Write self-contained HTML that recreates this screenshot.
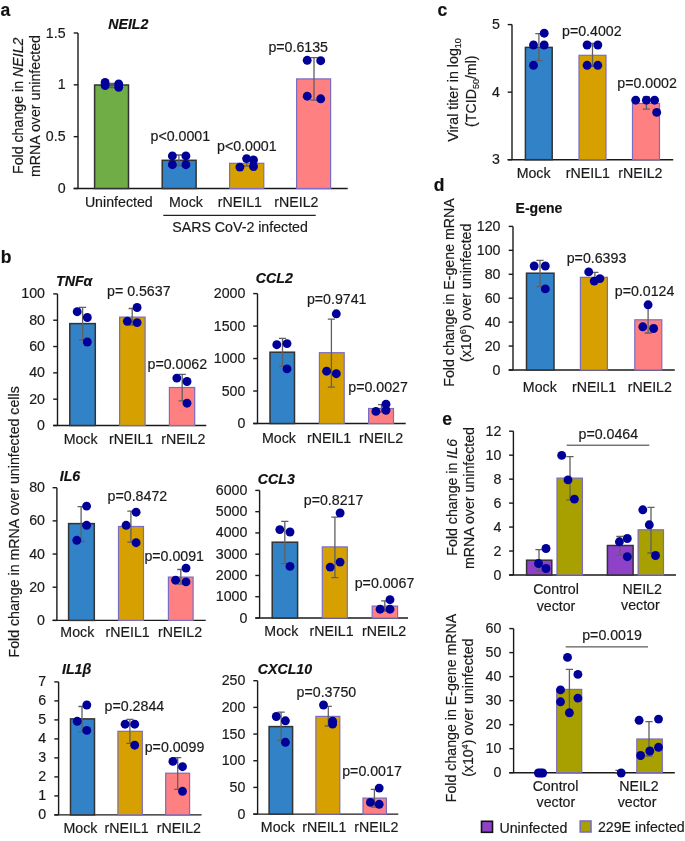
<!DOCTYPE html>
<html><head><meta charset="utf-8"><style>
html,body{margin:0;padding:0;background:#fff;}
svg{display:block;font-family:"Liberation Sans", sans-serif;will-change:transform;}
text{stroke:#1a1a1a;stroke-width:0.18px;}
</style></head><body>
<svg width="685" height="841" viewBox="0 0 685 841">
<rect width="685" height="841" fill="#fff"/>
<text x="0.6" y="16" font-size="17.5" text-anchor="start" font-weight="bold" font-style="normal" fill="#111" >a</text>
<line x1="78.0" y1="33.0" x2="78.0" y2="188.5" stroke="#1a1a1a" stroke-width="1.4"/>
<line x1="73.7" y1="188.5" x2="347.7" y2="188.5" stroke="#1a1a1a" stroke-width="1.4"/>
<line x1="73.7" y1="33.0" x2="78.0" y2="33.0" stroke="#1a1a1a" stroke-width="1.4"/>
<text x="65.6" y="37.5" font-size="14.2" text-anchor="end" font-weight="normal" font-style="normal" fill="#1a1a1a" >1.5</text>
<line x1="73.7" y1="84.83333333333334" x2="78.0" y2="84.83333333333334" stroke="#1a1a1a" stroke-width="1.4"/>
<text x="65.6" y="89.33333333333334" font-size="14.2" text-anchor="end" font-weight="normal" font-style="normal" fill="#1a1a1a" >1</text>
<line x1="73.7" y1="136.66666666666669" x2="78.0" y2="136.66666666666669" stroke="#1a1a1a" stroke-width="1.4"/>
<text x="65.6" y="141.16666666666669" font-size="14.2" text-anchor="end" font-weight="normal" font-style="normal" fill="#1a1a1a" >0.5</text>
<line x1="73.7" y1="188.5" x2="78.0" y2="188.5" stroke="#1a1a1a" stroke-width="1.4"/>
<text x="65.6" y="193.0" font-size="14.2" text-anchor="end" font-weight="normal" font-style="normal" fill="#1a1a1a" >0</text>
<rect x="94.6" y="85.0" width="33.900000000000006" height="103.5" fill="#70ad47" stroke="#333" stroke-width="1.5"/>
<rect x="162.2" y="160.3" width="33.900000000000006" height="28.19999999999999" fill="#3282c8" stroke="#333" stroke-width="1.5"/>
<rect x="229.6" y="163.3" width="34.20000000000002" height="25.19999999999999" fill="#d6a000" stroke="#7a6cc2" stroke-width="1.2"/>
<rect x="296.6" y="78.9" width="34.0" height="109.6" fill="#ff8080" stroke="#7a6cc2" stroke-width="1.2"/>
<path d="M112 83.5V87.5M108.4 83.5H115.6M108.4 87.5H115.6" stroke="#606060" stroke-width="1.3" fill="none"/>
<path d="M178.9 155V165.5M175.3 155H182.5M175.3 165.5H182.5" stroke="#606060" stroke-width="1.3" fill="none"/>
<path d="M246.7 161V166M243.1 161H250.29999999999998M243.1 166H250.29999999999998" stroke="#606060" stroke-width="1.3" fill="none"/>
<path d="M314 57.7V100.2M310.4 57.7H317.6M310.4 100.2H317.6" stroke="#606060" stroke-width="1.3" fill="none"/>
<circle cx="105.1" cy="82.5" r="4.45" fill="#000099"/>
<circle cx="105.1" cy="85.5" r="4.45" fill="#000099"/>
<circle cx="118.7" cy="83.9" r="4.45" fill="#000099"/>
<circle cx="118.7" cy="87.3" r="4.45" fill="#000099"/>
<circle cx="172.4" cy="155.9" r="4.45" fill="#000099"/>
<circle cx="185.9" cy="155.9" r="4.45" fill="#000099"/>
<circle cx="172.4" cy="164.7" r="4.45" fill="#000099"/>
<circle cx="185.9" cy="164.7" r="4.45" fill="#000099"/>
<circle cx="239.9" cy="167.1" r="4.45" fill="#000099"/>
<circle cx="246.6" cy="158.6" r="4.45" fill="#000099"/>
<circle cx="253.5" cy="160" r="4.45" fill="#000099"/>
<circle cx="253.5" cy="166.5" r="4.45" fill="#000099"/>
<circle cx="307.2" cy="60.3" r="4.45" fill="#000099"/>
<circle cx="320.7" cy="60.7" r="4.45" fill="#000099"/>
<circle cx="307.2" cy="96.2" r="4.45" fill="#000099"/>
<circle cx="320.7" cy="98.8" r="4.45" fill="#000099"/>
<text x="180.3" y="140.9" font-size="14.2" text-anchor="middle" font-weight="normal" font-style="normal" fill="#1a1a1a" >p&lt;0.0001</text>
<text x="246.8" y="150.9" font-size="14.2" text-anchor="middle" font-weight="normal" font-style="normal" fill="#1a1a1a" >p&lt;0.0001</text>
<text x="298.2" y="51.5" font-size="14.2" text-anchor="middle" font-weight="normal" font-style="normal" fill="#1a1a1a" >p=0.6135</text>
<text x="118.8" y="206.9" font-size="14.2" text-anchor="middle" font-weight="normal" font-style="normal" fill="#1a1a1a" >Uninfected</text>
<text x="186" y="206.9" font-size="14.2" text-anchor="middle" font-weight="normal" font-style="normal" fill="#1a1a1a" >Mock</text>
<text x="239.9" y="206.9" font-size="14.2" text-anchor="middle" font-weight="normal" font-style="normal" fill="#1a1a1a" >rNEIL1</text>
<text x="296.4" y="206.9" font-size="14.2" text-anchor="middle" font-weight="normal" font-style="normal" fill="#1a1a1a" >rNEIL2</text>
<text x="108.2" y="29.2" font-size="14.2" text-anchor="start" font-weight="bold" font-style="italic" fill="#111" >NEIL2</text>
<line x1="163.3" y1="215.4" x2="315.7" y2="215.4" stroke="#222" stroke-width="1.1"/>
<text x="240.1" y="231.9" font-size="14.2" text-anchor="middle" font-weight="normal" font-style="normal" fill="#1a1a1a" >SARS CoV-2 infected</text>
<text transform="translate(23.1,105.8) rotate(-90)" font-size="14.2" text-anchor="middle" fill="#1a1a1a">Fold change in <tspan font-style="italic">NEIL2</tspan></text>
<text transform="translate(40,106) rotate(-90)" font-size="14.2" text-anchor="middle" fill="#1a1a1a">mRNA over uninfected</text>
<text x="0.8" y="263.2" font-size="17.5" text-anchor="start" font-weight="bold" font-style="normal" fill="#111" >b</text>
<text transform="translate(19.2,521.9) rotate(-90)" font-size="14.2" text-anchor="middle" fill="#1a1a1a">Fold change in mRNA over uninfected cells</text>
<line x1="57.5" y1="293.9" x2="57.5" y2="425.5" stroke="#1a1a1a" stroke-width="1.4"/>
<line x1="53.2" y1="425.5" x2="206.3" y2="425.5" stroke="#1a1a1a" stroke-width="1.4"/>
<line x1="53.2" y1="293.9" x2="57.5" y2="293.9" stroke="#1a1a1a" stroke-width="1.4"/>
<text x="45" y="298.4" font-size="14.2" text-anchor="end" font-weight="normal" font-style="normal" fill="#1a1a1a" >100</text>
<line x1="53.2" y1="320.21999999999997" x2="57.5" y2="320.21999999999997" stroke="#1a1a1a" stroke-width="1.4"/>
<text x="45" y="324.71999999999997" font-size="14.2" text-anchor="end" font-weight="normal" font-style="normal" fill="#1a1a1a" >80</text>
<line x1="53.2" y1="346.53999999999996" x2="57.5" y2="346.53999999999996" stroke="#1a1a1a" stroke-width="1.4"/>
<text x="45" y="351.03999999999996" font-size="14.2" text-anchor="end" font-weight="normal" font-style="normal" fill="#1a1a1a" >60</text>
<line x1="53.2" y1="372.86" x2="57.5" y2="372.86" stroke="#1a1a1a" stroke-width="1.4"/>
<text x="45" y="377.36" font-size="14.2" text-anchor="end" font-weight="normal" font-style="normal" fill="#1a1a1a" >40</text>
<line x1="53.2" y1="399.18" x2="57.5" y2="399.18" stroke="#1a1a1a" stroke-width="1.4"/>
<text x="45" y="403.68" font-size="14.2" text-anchor="end" font-weight="normal" font-style="normal" fill="#1a1a1a" >20</text>
<line x1="53.2" y1="425.5" x2="57.5" y2="425.5" stroke="#1a1a1a" stroke-width="1.4"/>
<text x="45" y="430.0" font-size="14.2" text-anchor="end" font-weight="normal" font-style="normal" fill="#1a1a1a" >0</text>
<rect x="69.8" y="323.6" width="25.5" height="101.89999999999998" fill="#3282c8" stroke="#333" stroke-width="1.5"/>
<rect x="119.6" y="317.1" width="25.5" height="108.39999999999998" fill="#d6a000" stroke="#7a6cc2" stroke-width="1.2"/>
<rect x="169.4" y="387.5" width="25.299999999999983" height="38.0" fill="#ff8080" stroke="#7a6cc2" stroke-width="1.2"/>
<path d="M82.6 307.4V340M79.0 307.4H86.19999999999999M79.0 340H86.19999999999999" stroke="#606060" stroke-width="1.3" fill="none"/>
<path d="M132.2 308.5V325M128.6 308.5H135.79999999999998M128.6 325H135.79999999999998" stroke="#606060" stroke-width="1.3" fill="none"/>
<path d="M182.2 374.3V400.8M178.6 374.3H185.79999999999998M178.6 400.8H185.79999999999998" stroke="#606060" stroke-width="1.3" fill="none"/>
<circle cx="77.2" cy="311.7" r="4.45" fill="#000099"/>
<circle cx="87.3" cy="317.5" r="4.45" fill="#000099"/>
<circle cx="87.3" cy="342" r="4.45" fill="#000099"/>
<circle cx="137.1" cy="307.5" r="4.45" fill="#000099"/>
<circle cx="127.3" cy="321.3" r="4.45" fill="#000099"/>
<circle cx="137.1" cy="322.6" r="4.45" fill="#000099"/>
<circle cx="176.8" cy="378.1" r="4.45" fill="#000099"/>
<circle cx="187" cy="381.5" r="4.45" fill="#000099"/>
<circle cx="187" cy="403.2" r="4.45" fill="#000099"/>
<text x="138.8" y="295.5" font-size="14.2" text-anchor="middle" font-weight="normal" font-style="normal" fill="#1a1a1a" >p= 0.5637</text>
<text x="177.3" y="368.8" font-size="14.2" text-anchor="middle" font-weight="normal" font-style="normal" fill="#1a1a1a" >p=0.0062</text>
<text x="80.6" y="443.5" font-size="14.2" text-anchor="middle" font-weight="normal" font-style="normal" fill="#1a1a1a" >Mock</text>
<text x="131.1" y="443.5" font-size="14.2" text-anchor="middle" font-weight="normal" font-style="normal" fill="#1a1a1a" >rNEIL1</text>
<text x="183.3" y="443.5" font-size="14.2" text-anchor="middle" font-weight="normal" font-style="normal" fill="#1a1a1a" >rNEIL2</text>
<text x="56" y="285.5" font-size="14.2" text-anchor="start" font-weight="bold" font-style="italic" fill="#111" >TNFα</text>
<line x1="257.5" y1="293.6" x2="257.5" y2="423.5" stroke="#1a1a1a" stroke-width="1.4"/>
<line x1="253.2" y1="423.5" x2="405.7" y2="423.5" stroke="#1a1a1a" stroke-width="1.4"/>
<line x1="253.2" y1="293.6" x2="257.5" y2="293.6" stroke="#1a1a1a" stroke-width="1.4"/>
<text x="245.4" y="298.1" font-size="14.2" text-anchor="end" font-weight="normal" font-style="normal" fill="#1a1a1a" >2000</text>
<line x1="253.2" y1="326.07500000000005" x2="257.5" y2="326.07500000000005" stroke="#1a1a1a" stroke-width="1.4"/>
<text x="245.4" y="330.57500000000005" font-size="14.2" text-anchor="end" font-weight="normal" font-style="normal" fill="#1a1a1a" >1500</text>
<line x1="253.2" y1="358.55" x2="257.5" y2="358.55" stroke="#1a1a1a" stroke-width="1.4"/>
<text x="245.4" y="363.05" font-size="14.2" text-anchor="end" font-weight="normal" font-style="normal" fill="#1a1a1a" >1000</text>
<line x1="253.2" y1="391.025" x2="257.5" y2="391.025" stroke="#1a1a1a" stroke-width="1.4"/>
<text x="245.4" y="395.525" font-size="14.2" text-anchor="end" font-weight="normal" font-style="normal" fill="#1a1a1a" >500</text>
<line x1="253.2" y1="423.5" x2="257.5" y2="423.5" stroke="#1a1a1a" stroke-width="1.4"/>
<text x="245.4" y="428.0" font-size="14.2" text-anchor="end" font-weight="normal" font-style="normal" fill="#1a1a1a" >0</text>
<rect x="270" y="352.2" width="24.5" height="71.30000000000001" fill="#3282c8" stroke="#333" stroke-width="1.5"/>
<rect x="319.4" y="352.7" width="24.80000000000001" height="70.80000000000001" fill="#d6a000" stroke="#7a6cc2" stroke-width="1.2"/>
<rect x="368.6" y="408.5" width="24.899999999999977" height="15.0" fill="#ff8080" stroke="#7a6cc2" stroke-width="1.2"/>
<path d="M282.5 338.4V366.2M278.9 338.4H286.1M278.9 366.2H286.1" stroke="#606060" stroke-width="1.3" fill="none"/>
<path d="M331.4 319.2V387.2M327.79999999999995 319.2H335.0M327.79999999999995 387.2H335.0" stroke="#606060" stroke-width="1.3" fill="none"/>
<path d="M381.5 404.6V412M377.9 404.6H385.1M377.9 412H385.1" stroke="#606060" stroke-width="1.3" fill="none"/>
<circle cx="276.8" cy="344.7" r="4.45" fill="#000099"/>
<circle cx="287" cy="343.6" r="4.45" fill="#000099"/>
<circle cx="287" cy="368.9" r="4.45" fill="#000099"/>
<circle cx="336.3" cy="313.8" r="4.45" fill="#000099"/>
<circle cx="326.6" cy="371.2" r="4.45" fill="#000099"/>
<circle cx="336.3" cy="373.7" r="4.45" fill="#000099"/>
<circle cx="375.9" cy="411.4" r="4.45" fill="#000099"/>
<circle cx="386" cy="404.2" r="4.45" fill="#000099"/>
<circle cx="386" cy="410.3" r="4.45" fill="#000099"/>
<text x="336.7" y="303.6" font-size="14.2" text-anchor="middle" font-weight="normal" font-style="normal" fill="#1a1a1a" >p=0.9741</text>
<text x="378.1" y="391.5" font-size="14.2" text-anchor="middle" font-weight="normal" font-style="normal" fill="#1a1a1a" >p=0.0027</text>
<text x="278.9" y="442.6" font-size="14.2" text-anchor="middle" font-weight="normal" font-style="normal" fill="#1a1a1a" >Mock</text>
<text x="329.1" y="442.6" font-size="14.2" text-anchor="middle" font-weight="normal" font-style="normal" fill="#1a1a1a" >rNEIL1</text>
<text x="381" y="442.6" font-size="14.2" text-anchor="middle" font-weight="normal" font-style="normal" fill="#1a1a1a" >rNEIL2</text>
<text x="255.8" y="283.3" font-size="14.2" text-anchor="start" font-weight="bold" font-style="italic" fill="#111" >CCL2</text>
<line x1="56.9" y1="487.7" x2="56.9" y2="620.4" stroke="#1a1a1a" stroke-width="1.4"/>
<line x1="52.6" y1="620.4" x2="205.7" y2="620.4" stroke="#1a1a1a" stroke-width="1.4"/>
<line x1="52.6" y1="487.7" x2="56.9" y2="487.7" stroke="#1a1a1a" stroke-width="1.4"/>
<text x="45" y="492.2" font-size="14.2" text-anchor="end" font-weight="normal" font-style="normal" fill="#1a1a1a" >80</text>
<line x1="52.6" y1="520.875" x2="56.9" y2="520.875" stroke="#1a1a1a" stroke-width="1.4"/>
<text x="45" y="525.375" font-size="14.2" text-anchor="end" font-weight="normal" font-style="normal" fill="#1a1a1a" >60</text>
<line x1="52.6" y1="554.05" x2="56.9" y2="554.05" stroke="#1a1a1a" stroke-width="1.4"/>
<text x="45" y="558.55" font-size="14.2" text-anchor="end" font-weight="normal" font-style="normal" fill="#1a1a1a" >40</text>
<line x1="52.6" y1="587.225" x2="56.9" y2="587.225" stroke="#1a1a1a" stroke-width="1.4"/>
<text x="45" y="591.725" font-size="14.2" text-anchor="end" font-weight="normal" font-style="normal" fill="#1a1a1a" >20</text>
<line x1="52.6" y1="620.4" x2="56.9" y2="620.4" stroke="#1a1a1a" stroke-width="1.4"/>
<text x="45" y="624.9" font-size="14.2" text-anchor="end" font-weight="normal" font-style="normal" fill="#1a1a1a" >0</text>
<rect x="68.6" y="523.6" width="25.700000000000003" height="96.79999999999995" fill="#3282c8" stroke="#333" stroke-width="1.5"/>
<rect x="118.5" y="526.5" width="25.0" height="93.89999999999998" fill="#d6a000" stroke="#7a6cc2" stroke-width="1.2"/>
<rect x="168.4" y="577.1" width="24.69999999999999" height="43.299999999999955" fill="#ff8080" stroke="#7a6cc2" stroke-width="1.2"/>
<path d="M81.1 506.6V541.5M77.5 506.6H84.69999999999999M77.5 541.5H84.69999999999999" stroke="#606060" stroke-width="1.3" fill="none"/>
<path d="M130.9 511.1V542.2M127.30000000000001 511.1H134.5M127.30000000000001 542.2H134.5" stroke="#606060" stroke-width="1.3" fill="none"/>
<path d="M180.8 569.5V584.2M177.20000000000002 569.5H184.4M177.20000000000002 584.2H184.4" stroke="#606060" stroke-width="1.3" fill="none"/>
<circle cx="86.6" cy="506.1" r="4.45" fill="#000099"/>
<circle cx="86.6" cy="525.3" r="4.45" fill="#000099"/>
<circle cx="76.8" cy="540.3" r="4.45" fill="#000099"/>
<circle cx="136.1" cy="512.2" r="4.45" fill="#000099"/>
<circle cx="126.1" cy="525.3" r="4.45" fill="#000099"/>
<circle cx="136.1" cy="542.7" r="4.45" fill="#000099"/>
<circle cx="186" cy="568.1" r="4.45" fill="#000099"/>
<circle cx="175.6" cy="580.2" r="4.45" fill="#000099"/>
<circle cx="186" cy="581.9" r="4.45" fill="#000099"/>
<text x="137.4" y="501.1" font-size="14.2" text-anchor="middle" font-weight="normal" font-style="normal" fill="#1a1a1a" >p=0.8472</text>
<text x="174.2" y="561" font-size="14.2" text-anchor="middle" font-weight="normal" font-style="normal" fill="#1a1a1a" >p=0.0091</text>
<text x="77.3" y="637" font-size="14.2" text-anchor="middle" font-weight="normal" font-style="normal" fill="#1a1a1a" >Mock</text>
<text x="127.6" y="637" font-size="14.2" text-anchor="middle" font-weight="normal" font-style="normal" fill="#1a1a1a" >rNEIL1</text>
<text x="180" y="637" font-size="14.2" text-anchor="middle" font-weight="normal" font-style="normal" fill="#1a1a1a" >rNEIL2</text>
<text x="59.7" y="481.0" font-size="14.2" text-anchor="start" font-weight="bold" font-style="italic" fill="#111" >IL6</text>
<line x1="259.6" y1="490.4" x2="259.6" y2="618.0" stroke="#1a1a1a" stroke-width="1.4"/>
<line x1="255.3" y1="618.0" x2="408" y2="618.0" stroke="#1a1a1a" stroke-width="1.4"/>
<line x1="255.3" y1="490.4" x2="259.6" y2="490.4" stroke="#1a1a1a" stroke-width="1.4"/>
<text x="247.4" y="494.9" font-size="14.2" text-anchor="end" font-weight="normal" font-style="normal" fill="#1a1a1a" >6000</text>
<line x1="255.3" y1="511.66666666666663" x2="259.6" y2="511.66666666666663" stroke="#1a1a1a" stroke-width="1.4"/>
<text x="247.4" y="516.1666666666666" font-size="14.2" text-anchor="end" font-weight="normal" font-style="normal" fill="#1a1a1a" >5000</text>
<line x1="255.3" y1="532.9333333333333" x2="259.6" y2="532.9333333333333" stroke="#1a1a1a" stroke-width="1.4"/>
<text x="247.4" y="537.4333333333333" font-size="14.2" text-anchor="end" font-weight="normal" font-style="normal" fill="#1a1a1a" >4000</text>
<line x1="255.3" y1="554.2" x2="259.6" y2="554.2" stroke="#1a1a1a" stroke-width="1.4"/>
<text x="247.4" y="558.7" font-size="14.2" text-anchor="end" font-weight="normal" font-style="normal" fill="#1a1a1a" >3000</text>
<line x1="255.3" y1="575.4666666666667" x2="259.6" y2="575.4666666666667" stroke="#1a1a1a" stroke-width="1.4"/>
<text x="247.4" y="579.9666666666667" font-size="14.2" text-anchor="end" font-weight="normal" font-style="normal" fill="#1a1a1a" >2000</text>
<line x1="255.3" y1="596.7333333333333" x2="259.6" y2="596.7333333333333" stroke="#1a1a1a" stroke-width="1.4"/>
<text x="247.4" y="601.2333333333333" font-size="14.2" text-anchor="end" font-weight="normal" font-style="normal" fill="#1a1a1a" >1000</text>
<line x1="255.3" y1="618.0" x2="259.6" y2="618.0" stroke="#1a1a1a" stroke-width="1.4"/>
<text x="247.4" y="622.5" font-size="14.2" text-anchor="end" font-weight="normal" font-style="normal" fill="#1a1a1a" >0</text>
<rect x="272.2" y="542.2" width="25.400000000000034" height="75.79999999999995" fill="#3282c8" stroke="#333" stroke-width="1.5"/>
<rect x="322.3" y="546.9" width="25.0" height="71.10000000000002" fill="#d6a000" stroke="#7a6cc2" stroke-width="1.2"/>
<rect x="372.2" y="606.1" width="25.400000000000034" height="11.899999999999977" fill="#ff8080" stroke="#7a6cc2" stroke-width="1.2"/>
<path d="M284.8 521.3V563.6M281.2 521.3H288.40000000000003M281.2 563.6H288.40000000000003" stroke="#606060" stroke-width="1.3" fill="none"/>
<path d="M334.9 517.2V577.6M331.29999999999995 517.2H338.5M331.29999999999995 577.6H338.5" stroke="#606060" stroke-width="1.3" fill="none"/>
<path d="M384.8 600.9V611M381.2 600.9H388.40000000000003M381.2 611H388.40000000000003" stroke="#606060" stroke-width="1.3" fill="none"/>
<circle cx="279.8" cy="529.6" r="4.45" fill="#000099"/>
<circle cx="290" cy="532" r="4.45" fill="#000099"/>
<circle cx="290" cy="566.4" r="4.45" fill="#000099"/>
<circle cx="340.1" cy="513" r="4.45" fill="#000099"/>
<circle cx="330.2" cy="567.1" r="4.45" fill="#000099"/>
<circle cx="340.1" cy="562.1" r="4.45" fill="#000099"/>
<circle cx="390" cy="599.7" r="4.45" fill="#000099"/>
<circle cx="380.1" cy="609.2" r="4.45" fill="#000099"/>
<circle cx="390" cy="609.2" r="4.45" fill="#000099"/>
<text x="333.6" y="505.1" font-size="14.2" text-anchor="middle" font-weight="normal" font-style="normal" fill="#1a1a1a" >p=0.8217</text>
<text x="384.5" y="588.3" font-size="14.2" text-anchor="middle" font-weight="normal" font-style="normal" fill="#1a1a1a" >p=0.0067</text>
<text x="281.3" y="635.8" font-size="14.2" text-anchor="middle" font-weight="normal" font-style="normal" fill="#1a1a1a" >Mock</text>
<text x="331.5" y="635.8" font-size="14.2" text-anchor="middle" font-weight="normal" font-style="normal" fill="#1a1a1a" >rNEIL1</text>
<text x="384.1" y="635.8" font-size="14.2" text-anchor="middle" font-weight="normal" font-style="normal" fill="#1a1a1a" >rNEIL2</text>
<text x="257.8" y="484.4" font-size="14.2" text-anchor="start" font-weight="bold" font-style="italic" fill="#111" >CCL3</text>
<line x1="58.6" y1="681.9" x2="58.6" y2="814.9" stroke="#1a1a1a" stroke-width="1.4"/>
<line x1="54.300000000000004" y1="814.9" x2="201.6" y2="814.9" stroke="#1a1a1a" stroke-width="1.4"/>
<line x1="54.300000000000004" y1="681.9" x2="58.6" y2="681.9" stroke="#1a1a1a" stroke-width="1.4"/>
<text x="46.2" y="686.4" font-size="14.2" text-anchor="end" font-weight="normal" font-style="normal" fill="#1a1a1a" >7</text>
<line x1="54.300000000000004" y1="700.9" x2="58.6" y2="700.9" stroke="#1a1a1a" stroke-width="1.4"/>
<text x="46.2" y="705.4" font-size="14.2" text-anchor="end" font-weight="normal" font-style="normal" fill="#1a1a1a" >6</text>
<line x1="54.300000000000004" y1="719.9" x2="58.6" y2="719.9" stroke="#1a1a1a" stroke-width="1.4"/>
<text x="46.2" y="724.4" font-size="14.2" text-anchor="end" font-weight="normal" font-style="normal" fill="#1a1a1a" >5</text>
<line x1="54.300000000000004" y1="738.9" x2="58.6" y2="738.9" stroke="#1a1a1a" stroke-width="1.4"/>
<text x="46.2" y="743.4" font-size="14.2" text-anchor="end" font-weight="normal" font-style="normal" fill="#1a1a1a" >4</text>
<line x1="54.300000000000004" y1="757.9" x2="58.6" y2="757.9" stroke="#1a1a1a" stroke-width="1.4"/>
<text x="46.2" y="762.4" font-size="14.2" text-anchor="end" font-weight="normal" font-style="normal" fill="#1a1a1a" >3</text>
<line x1="54.300000000000004" y1="776.9" x2="58.6" y2="776.9" stroke="#1a1a1a" stroke-width="1.4"/>
<text x="46.2" y="781.4" font-size="14.2" text-anchor="end" font-weight="normal" font-style="normal" fill="#1a1a1a" >2</text>
<line x1="54.300000000000004" y1="795.9" x2="58.6" y2="795.9" stroke="#1a1a1a" stroke-width="1.4"/>
<text x="46.2" y="800.4" font-size="14.2" text-anchor="end" font-weight="normal" font-style="normal" fill="#1a1a1a" >1</text>
<line x1="54.300000000000004" y1="814.9" x2="58.6" y2="814.9" stroke="#1a1a1a" stroke-width="1.4"/>
<text x="46.2" y="819.4" font-size="14.2" text-anchor="end" font-weight="normal" font-style="normal" fill="#1a1a1a" >0</text>
<rect x="70.5" y="718.9" width="24.0" height="96.0" fill="#3282c8" stroke="#333" stroke-width="1.5"/>
<rect x="117.9" y="731.3" width="24.400000000000006" height="83.60000000000002" fill="#d6a000" stroke="#7a6cc2" stroke-width="1.2"/>
<rect x="165.7" y="773.2" width="23.900000000000006" height="41.69999999999993" fill="#ff8080" stroke="#7a6cc2" stroke-width="1.2"/>
<path d="M82 706.5V731.6M78.4 706.5H85.6M78.4 731.6H85.6" stroke="#606060" stroke-width="1.3" fill="none"/>
<path d="M129.9 719.4V743.3M126.30000000000001 719.4H133.5M126.30000000000001 743.3H133.5" stroke="#606060" stroke-width="1.3" fill="none"/>
<path d="M177.7 757.6V789.4M174.1 757.6H181.29999999999998M174.1 789.4H181.29999999999998" stroke="#606060" stroke-width="1.3" fill="none"/>
<circle cx="86.8" cy="705" r="4.45" fill="#000099"/>
<circle cx="77.2" cy="721.3" r="4.45" fill="#000099"/>
<circle cx="86.8" cy="730.4" r="4.45" fill="#000099"/>
<circle cx="125.1" cy="724.2" r="4.45" fill="#000099"/>
<circle cx="134.7" cy="724.2" r="4.45" fill="#000099"/>
<circle cx="134.7" cy="745.2" r="4.45" fill="#000099"/>
<circle cx="172.9" cy="761.4" r="4.45" fill="#000099"/>
<circle cx="182.5" cy="766.7" r="4.45" fill="#000099"/>
<circle cx="182.5" cy="791.3" r="4.45" fill="#000099"/>
<text x="134.4" y="711.2" font-size="14.2" text-anchor="middle" font-weight="normal" font-style="normal" fill="#1a1a1a" >p=0.2844</text>
<text x="174.5" y="752.4" font-size="14.2" text-anchor="middle" font-weight="normal" font-style="normal" fill="#1a1a1a" >p=0.0099</text>
<text x="80.5" y="833.2" font-size="14.2" text-anchor="middle" font-weight="normal" font-style="normal" fill="#1a1a1a" >Mock</text>
<text x="126.6" y="833.2" font-size="14.2" text-anchor="middle" font-weight="normal" font-style="normal" fill="#1a1a1a" >rNEIL1</text>
<text x="178.9" y="833.2" font-size="14.2" text-anchor="middle" font-weight="normal" font-style="normal" fill="#1a1a1a" >rNEIL2</text>
<text x="62.0" y="673.9" font-size="14.2" text-anchor="start" font-weight="bold" font-style="italic" fill="#111" >IL1β</text>
<line x1="257.6" y1="680.7" x2="257.6" y2="814.1" stroke="#1a1a1a" stroke-width="1.4"/>
<line x1="253.3" y1="814.1" x2="398.3" y2="814.1" stroke="#1a1a1a" stroke-width="1.4"/>
<line x1="253.3" y1="680.7" x2="257.6" y2="680.7" stroke="#1a1a1a" stroke-width="1.4"/>
<text x="245.4" y="685.2" font-size="14.2" text-anchor="end" font-weight="normal" font-style="normal" fill="#1a1a1a" >250</text>
<line x1="253.3" y1="707.38" x2="257.6" y2="707.38" stroke="#1a1a1a" stroke-width="1.4"/>
<text x="245.4" y="711.88" font-size="14.2" text-anchor="end" font-weight="normal" font-style="normal" fill="#1a1a1a" >200</text>
<line x1="253.3" y1="734.0600000000001" x2="257.6" y2="734.0600000000001" stroke="#1a1a1a" stroke-width="1.4"/>
<text x="245.4" y="738.5600000000001" font-size="14.2" text-anchor="end" font-weight="normal" font-style="normal" fill="#1a1a1a" >150</text>
<line x1="253.3" y1="760.74" x2="257.6" y2="760.74" stroke="#1a1a1a" stroke-width="1.4"/>
<text x="245.4" y="765.24" font-size="14.2" text-anchor="end" font-weight="normal" font-style="normal" fill="#1a1a1a" >100</text>
<line x1="253.3" y1="787.4200000000001" x2="257.6" y2="787.4200000000001" stroke="#1a1a1a" stroke-width="1.4"/>
<text x="245.4" y="791.9200000000001" font-size="14.2" text-anchor="end" font-weight="normal" font-style="normal" fill="#1a1a1a" >50</text>
<line x1="253.3" y1="814.1" x2="257.6" y2="814.1" stroke="#1a1a1a" stroke-width="1.4"/>
<text x="245.4" y="818.6" font-size="14.2" text-anchor="end" font-weight="normal" font-style="normal" fill="#1a1a1a" >0</text>
<rect x="269.1" y="726.6" width="23.5" height="87.5" fill="#3282c8" stroke="#333" stroke-width="1.5"/>
<rect x="315.9" y="716.4" width="23.900000000000034" height="97.70000000000005" fill="#d6a000" stroke="#7a6cc2" stroke-width="1.2"/>
<rect x="363" y="798.1" width="23.399999999999977" height="16.0" fill="#ff8080" stroke="#7a6cc2" stroke-width="1.2"/>
<path d="M281.1 712.2V740.4M277.5 712.2H284.70000000000005M277.5 740.4H284.70000000000005" stroke="#606060" stroke-width="1.3" fill="none"/>
<path d="M328.3 706.4V726M324.7 706.4H331.90000000000003M324.7 726H331.90000000000003" stroke="#606060" stroke-width="1.3" fill="none"/>
<path d="M374.4 789.3V807.2M370.79999999999995 789.3H378.0M370.79999999999995 807.2H378.0" stroke="#606060" stroke-width="1.3" fill="none"/>
<circle cx="276.3" cy="716.5" r="4.45" fill="#000099"/>
<circle cx="285.4" cy="720.8" r="4.45" fill="#000099"/>
<circle cx="285.4" cy="742.3" r="4.45" fill="#000099"/>
<circle cx="323.5" cy="705" r="4.45" fill="#000099"/>
<circle cx="332.6" cy="721.2" r="4.45" fill="#000099"/>
<circle cx="332.6" cy="724.1" r="4.45" fill="#000099"/>
<circle cx="379.2" cy="788.1" r="4.45" fill="#000099"/>
<circle cx="370.4" cy="802.4" r="4.45" fill="#000099"/>
<circle cx="379.2" cy="804.3" r="4.45" fill="#000099"/>
<text x="326.4" y="696.6" font-size="14.2" text-anchor="middle" font-weight="normal" font-style="normal" fill="#1a1a1a" >p=0.3750</text>
<text x="372" y="775.7" font-size="14.2" text-anchor="middle" font-weight="normal" font-style="normal" fill="#1a1a1a" >p=0.0017</text>
<text x="277.8" y="832.3" font-size="14.2" text-anchor="middle" font-weight="normal" font-style="normal" fill="#1a1a1a" >Mock</text>
<text x="324.3" y="832.3" font-size="14.2" text-anchor="middle" font-weight="normal" font-style="normal" fill="#1a1a1a" >rNEIL1</text>
<text x="376.3" y="832.3" font-size="14.2" text-anchor="middle" font-weight="normal" font-style="normal" fill="#1a1a1a" >rNEIL2</text>
<text x="257.7" y="674.2" font-size="14.2" text-anchor="start" font-weight="bold" font-style="italic" fill="#111" >CXCL10</text>
<text x="437.5" y="15.8" font-size="17.5" text-anchor="start" font-weight="bold" font-style="normal" fill="#111" >c</text>
<line x1="512.0" y1="24.6" x2="512.0" y2="159.7" stroke="#1a1a1a" stroke-width="1.4"/>
<line x1="507.7" y1="159.7" x2="673.2" y2="159.7" stroke="#1a1a1a" stroke-width="1.4"/>
<line x1="507.7" y1="24.6" x2="512.0" y2="24.6" stroke="#1a1a1a" stroke-width="1.4"/>
<text x="499.9" y="29.1" font-size="14.2" text-anchor="end" font-weight="normal" font-style="normal" fill="#1a1a1a" >5</text>
<line x1="507.7" y1="92.15" x2="512.0" y2="92.15" stroke="#1a1a1a" stroke-width="1.4"/>
<text x="499.9" y="96.65" font-size="14.2" text-anchor="end" font-weight="normal" font-style="normal" fill="#1a1a1a" >4</text>
<line x1="507.7" y1="159.7" x2="512.0" y2="159.7" stroke="#1a1a1a" stroke-width="1.4"/>
<text x="499.9" y="164.2" font-size="14.2" text-anchor="end" font-weight="normal" font-style="normal" fill="#1a1a1a" >3</text>
<rect x="525.4" y="47.4" width="26.800000000000068" height="112.29999999999998" fill="#3282c8" stroke="#333" stroke-width="1.5"/>
<rect x="579" y="55.3" width="27" height="104.39999999999999" fill="#d6a000" stroke="#7a6cc2" stroke-width="1.2"/>
<rect x="632.5" y="103.4" width="27.0" height="56.29999999999998" fill="#ff8080" stroke="#7a6cc2" stroke-width="1.2"/>
<path d="M538.9 33.6V60.6M535.3 33.6H542.5M535.3 60.6H542.5" stroke="#606060" stroke-width="1.3" fill="none"/>
<path d="M592.5 43.4V66.4M588.9 43.4H596.1M588.9 66.4H596.1" stroke="#606060" stroke-width="1.3" fill="none"/>
<path d="M646.4 97V109.2M642.8 97H650.0M642.8 109.2H650.0" stroke="#606060" stroke-width="1.3" fill="none"/>
<circle cx="533.5" cy="65.3" r="4.45" fill="#000099"/>
<circle cx="533.5" cy="45" r="4.45" fill="#000099"/>
<circle cx="544.2" cy="45" r="4.45" fill="#000099"/>
<circle cx="544.2" cy="33.2" r="4.45" fill="#000099"/>
<circle cx="587.1" cy="45" r="4.45" fill="#000099"/>
<circle cx="597.8" cy="45" r="4.45" fill="#000099"/>
<circle cx="587.1" cy="65.3" r="4.45" fill="#000099"/>
<circle cx="597.8" cy="65.3" r="4.45" fill="#000099"/>
<circle cx="635.7" cy="100.2" r="4.45" fill="#000099"/>
<circle cx="646.4" cy="100.2" r="4.45" fill="#000099"/>
<circle cx="654.6" cy="100.2" r="4.45" fill="#000099"/>
<circle cx="656.7" cy="112.4" r="4.45" fill="#000099"/>
<text x="591.8" y="36" font-size="14.2" text-anchor="middle" font-weight="normal" font-style="normal" fill="#1a1a1a" >p=0.4002</text>
<text x="647.1" y="88.2" font-size="14.2" text-anchor="middle" font-weight="normal" font-style="normal" fill="#1a1a1a" >p=0.0002</text>
<text x="533.6" y="177.7" font-size="14.2" text-anchor="middle" font-weight="normal" font-style="normal" fill="#1a1a1a" >Mock</text>
<text x="587.9" y="177.7" font-size="14.2" text-anchor="middle" font-weight="normal" font-style="normal" fill="#1a1a1a" >rNEIL1</text>
<text x="640.4" y="177.7" font-size="14.2" text-anchor="middle" font-weight="normal" font-style="normal" fill="#1a1a1a" >rNEIL2</text>
<text transform="translate(458.3,90) rotate(-90)" font-size="14.2" text-anchor="middle" fill="#1a1a1a">Viral titer in log<tspan font-size="9" dy="3">10</tspan></text>
<text transform="translate(476,91.2) rotate(-90)" font-size="14.2" text-anchor="middle" fill="#1a1a1a">(TCID<tspan font-size="9" dy="3">50</tspan><tspan dy="-3">/ml)</tspan></text>
<text x="433.8" y="191.4" font-size="17.5" text-anchor="start" font-weight="bold" font-style="normal" fill="#111" >d</text>
<line x1="513.0" y1="226.4" x2="513.0" y2="370.0" stroke="#1a1a1a" stroke-width="1.4"/>
<line x1="508.7" y1="370.0" x2="674.8" y2="370.0" stroke="#1a1a1a" stroke-width="1.4"/>
<line x1="508.7" y1="226.4" x2="513.0" y2="226.4" stroke="#1a1a1a" stroke-width="1.4"/>
<text x="500.5" y="230.9" font-size="14.2" text-anchor="end" font-weight="normal" font-style="normal" fill="#1a1a1a" >120</text>
<line x1="508.7" y1="250.33333333333334" x2="513.0" y2="250.33333333333334" stroke="#1a1a1a" stroke-width="1.4"/>
<text x="500.5" y="254.83333333333334" font-size="14.2" text-anchor="end" font-weight="normal" font-style="normal" fill="#1a1a1a" >100</text>
<line x1="508.7" y1="274.26666666666665" x2="513.0" y2="274.26666666666665" stroke="#1a1a1a" stroke-width="1.4"/>
<text x="500.5" y="278.76666666666665" font-size="14.2" text-anchor="end" font-weight="normal" font-style="normal" fill="#1a1a1a" >80</text>
<line x1="508.7" y1="298.2" x2="513.0" y2="298.2" stroke="#1a1a1a" stroke-width="1.4"/>
<text x="500.5" y="302.7" font-size="14.2" text-anchor="end" font-weight="normal" font-style="normal" fill="#1a1a1a" >60</text>
<line x1="508.7" y1="322.1333333333333" x2="513.0" y2="322.1333333333333" stroke="#1a1a1a" stroke-width="1.4"/>
<text x="500.5" y="326.6333333333333" font-size="14.2" text-anchor="end" font-weight="normal" font-style="normal" fill="#1a1a1a" >40</text>
<line x1="508.7" y1="346.06666666666666" x2="513.0" y2="346.06666666666666" stroke="#1a1a1a" stroke-width="1.4"/>
<text x="500.5" y="350.56666666666666" font-size="14.2" text-anchor="end" font-weight="normal" font-style="normal" fill="#1a1a1a" >20</text>
<line x1="508.7" y1="370.0" x2="513.0" y2="370.0" stroke="#1a1a1a" stroke-width="1.4"/>
<text x="500.5" y="374.5" font-size="14.2" text-anchor="end" font-weight="normal" font-style="normal" fill="#1a1a1a" >0</text>
<rect x="526.5" y="273.2" width="27.5" height="96.80000000000001" fill="#3282c8" stroke="#333" stroke-width="1.5"/>
<rect x="580.4" y="277.3" width="27.0" height="92.69999999999999" fill="#d6a000" stroke="#7a6cc2" stroke-width="1.2"/>
<rect x="634.8" y="319.8" width="27.0" height="50.19999999999999" fill="#ff8080" stroke="#7a6cc2" stroke-width="1.2"/>
<path d="M540 260.4V286.7M536.4 260.4H543.6M536.4 286.7H543.6" stroke="#606060" stroke-width="1.3" fill="none"/>
<path d="M594.9 272.4V282M591.3 272.4H598.5M591.3 282H598.5" stroke="#606060" stroke-width="1.3" fill="none"/>
<path d="M648.1 304.8V333M644.5 304.8H651.7M644.5 333H651.7" stroke="#606060" stroke-width="1.3" fill="none"/>
<circle cx="534.2" cy="266" r="4.45" fill="#000099"/>
<circle cx="545.3" cy="266" r="4.45" fill="#000099"/>
<circle cx="545.3" cy="288.9" r="4.45" fill="#000099"/>
<circle cx="588.7" cy="271.9" r="4.45" fill="#000099"/>
<circle cx="594.2" cy="281.1" r="4.45" fill="#000099"/>
<circle cx="599.9" cy="278.6" r="4.45" fill="#000099"/>
<circle cx="648.1" cy="304.8" r="4.45" fill="#000099"/>
<circle cx="642.8" cy="326.8" r="4.45" fill="#000099"/>
<circle cx="653.6" cy="328.5" r="4.45" fill="#000099"/>
<text x="596.5" y="262.9" font-size="14.2" text-anchor="middle" font-weight="normal" font-style="normal" fill="#1a1a1a" >p=0.6393</text>
<text x="644.6" y="296" font-size="14.2" text-anchor="middle" font-weight="normal" font-style="normal" fill="#1a1a1a" >p=0.0124</text>
<text x="539.8" y="391.6" font-size="14.2" text-anchor="middle" font-weight="normal" font-style="normal" fill="#1a1a1a" >Mock</text>
<text x="594" y="391.6" font-size="14.2" text-anchor="middle" font-weight="normal" font-style="normal" fill="#1a1a1a" >rNEIL1</text>
<text x="649.8" y="391.6" font-size="14.2" text-anchor="middle" font-weight="normal" font-style="normal" fill="#1a1a1a" >rNEIL2</text>
<text x="515.6" y="212.8" font-size="14" text-anchor="start" font-weight="bold" font-style="normal" fill="#111" >E-gene</text>
<text transform="translate(453.6,292.5) rotate(-90)" font-size="14.2" text-anchor="middle" fill="#1a1a1a">Fold change in E-gene mRNA</text>
<text transform="translate(471,292.8) rotate(-90)" font-size="14.2" text-anchor="middle" fill="#1a1a1a">(x10<tspan font-size="9" dy="-5">6</tspan><tspan dy="5">) over uninfected</tspan></text>
<text x="442.3" y="425.4" font-size="17.5" text-anchor="start" font-weight="bold" font-style="normal" fill="#111" >e</text>
<line x1="513.4" y1="431.2" x2="513.4" y2="575.0" stroke="#1a1a1a" stroke-width="1.4"/>
<line x1="509.09999999999997" y1="575.0" x2="676" y2="575.0" stroke="#1a1a1a" stroke-width="1.4"/>
<line x1="509.09999999999997" y1="431.2" x2="513.4" y2="431.2" stroke="#1a1a1a" stroke-width="1.4"/>
<text x="501.3" y="435.7" font-size="14.2" text-anchor="end" font-weight="normal" font-style="normal" fill="#1a1a1a" >12</text>
<line x1="509.09999999999997" y1="455.16666666666663" x2="513.4" y2="455.16666666666663" stroke="#1a1a1a" stroke-width="1.4"/>
<text x="501.3" y="459.66666666666663" font-size="14.2" text-anchor="end" font-weight="normal" font-style="normal" fill="#1a1a1a" >10</text>
<line x1="509.09999999999997" y1="479.1333333333333" x2="513.4" y2="479.1333333333333" stroke="#1a1a1a" stroke-width="1.4"/>
<text x="501.3" y="483.6333333333333" font-size="14.2" text-anchor="end" font-weight="normal" font-style="normal" fill="#1a1a1a" >8</text>
<line x1="509.09999999999997" y1="503.1" x2="513.4" y2="503.1" stroke="#1a1a1a" stroke-width="1.4"/>
<text x="501.3" y="507.6" font-size="14.2" text-anchor="end" font-weight="normal" font-style="normal" fill="#1a1a1a" >6</text>
<line x1="509.09999999999997" y1="527.0666666666666" x2="513.4" y2="527.0666666666666" stroke="#1a1a1a" stroke-width="1.4"/>
<text x="501.3" y="531.5666666666666" font-size="14.2" text-anchor="end" font-weight="normal" font-style="normal" fill="#1a1a1a" >4</text>
<line x1="509.09999999999997" y1="551.0333333333333" x2="513.4" y2="551.0333333333333" stroke="#1a1a1a" stroke-width="1.4"/>
<text x="501.3" y="555.5333333333333" font-size="14.2" text-anchor="end" font-weight="normal" font-style="normal" fill="#1a1a1a" >2</text>
<line x1="509.09999999999997" y1="575.0" x2="513.4" y2="575.0" stroke="#1a1a1a" stroke-width="1.4"/>
<text x="501.3" y="579.5" font-size="14.2" text-anchor="end" font-weight="normal" font-style="normal" fill="#1a1a1a" >0</text>
<rect x="526.6" y="560.2" width="25.199999999999932" height="14.799999999999955" fill="#8f42c8" stroke="#333" stroke-width="1.5"/>
<rect x="557" y="478.1" width="25.399999999999977" height="96.89999999999998" fill="#a8a000" stroke="#7a6cc2" stroke-width="1.2"/>
<rect x="607.4" y="545.5" width="25.700000000000045" height="29.5" fill="#8f42c8" stroke="#333" stroke-width="1.5"/>
<rect x="638.1" y="529.8" width="25.399999999999977" height="45.200000000000045" fill="#a8a000" stroke="#7a6cc2" stroke-width="1.2"/>
<path d="M539 549.7V571M535.4 549.7H542.6M535.4 571H542.6" stroke="#606060" stroke-width="1.3" fill="none"/>
<path d="M570 456.7V499.8M566.4 456.7H573.6M566.4 499.8H573.6" stroke="#606060" stroke-width="1.3" fill="none"/>
<path d="M619.9 536.5V555.2M616.3 536.5H623.5M616.3 555.2H623.5" stroke="#606060" stroke-width="1.3" fill="none"/>
<path d="M651 507.3V553M647.4 507.3H654.6M647.4 553H654.6" stroke="#606060" stroke-width="1.3" fill="none"/>
<circle cx="546" cy="548.5" r="4.45" fill="#000099"/>
<circle cx="538.5" cy="563.5" r="4.45" fill="#000099"/>
<circle cx="546" cy="568.5" r="4.45" fill="#000099"/>
<circle cx="561.7" cy="455.4" r="4.45" fill="#000099"/>
<circle cx="568" cy="479.9" r="4.45" fill="#000099"/>
<circle cx="574.4" cy="499.1" r="4.45" fill="#000099"/>
<circle cx="619.4" cy="541.8" r="4.45" fill="#000099"/>
<circle cx="627.3" cy="538.5" r="4.45" fill="#000099"/>
<circle cx="627.3" cy="556.7" r="4.45" fill="#000099"/>
<circle cx="642.8" cy="509.8" r="4.45" fill="#000099"/>
<circle cx="649.3" cy="524.8" r="4.45" fill="#000099"/>
<circle cx="655.5" cy="555.5" r="4.45" fill="#000099"/>
<text x="608.3" y="439.4" font-size="14.2" text-anchor="middle" font-weight="normal" font-style="normal" fill="#1a1a1a" >p=0.0464</text>
<text x="556" y="594.3" font-size="14.2" text-anchor="middle" font-weight="normal" font-style="normal" fill="#1a1a1a" >Control</text>
<text x="556" y="610.5" font-size="14.2" text-anchor="middle" font-weight="normal" font-style="normal" fill="#1a1a1a" >vector</text>
<text x="642.2" y="593.7" font-size="14.2" text-anchor="middle" font-weight="normal" font-style="normal" fill="#1a1a1a" >NEIL2</text>
<text x="640.4" y="610.3" font-size="14.2" text-anchor="middle" font-weight="normal" font-style="normal" fill="#1a1a1a" >vector</text>
<line x1="566.7" y1="445.2" x2="649.3" y2="445.2" stroke="#333" stroke-width="1.0"/>
<text transform="translate(457.3,497.3) rotate(-90)" font-size="14.2" text-anchor="middle" fill="#1a1a1a">Fold change in <tspan font-style="italic">IL6</tspan></text>
<text transform="translate(473.8,498) rotate(-90)" font-size="14.2" text-anchor="middle" fill="#1a1a1a">mRNA over uninfected</text>
<line x1="513.6" y1="628.6" x2="513.6" y2="772.7" stroke="#1a1a1a" stroke-width="1.4"/>
<line x1="509.3" y1="772.7" x2="674.8" y2="772.7" stroke="#1a1a1a" stroke-width="1.4"/>
<line x1="509.3" y1="628.6" x2="513.6" y2="628.6" stroke="#1a1a1a" stroke-width="1.4"/>
<text x="501.3" y="633.1" font-size="14.2" text-anchor="end" font-weight="normal" font-style="normal" fill="#1a1a1a" >60</text>
<line x1="509.3" y1="652.6166666666667" x2="513.6" y2="652.6166666666667" stroke="#1a1a1a" stroke-width="1.4"/>
<text x="501.3" y="657.1166666666667" font-size="14.2" text-anchor="end" font-weight="normal" font-style="normal" fill="#1a1a1a" >50</text>
<line x1="509.3" y1="676.6333333333333" x2="513.6" y2="676.6333333333333" stroke="#1a1a1a" stroke-width="1.4"/>
<text x="501.3" y="681.1333333333333" font-size="14.2" text-anchor="end" font-weight="normal" font-style="normal" fill="#1a1a1a" >40</text>
<line x1="509.3" y1="700.6500000000001" x2="513.6" y2="700.6500000000001" stroke="#1a1a1a" stroke-width="1.4"/>
<text x="501.3" y="705.1500000000001" font-size="14.2" text-anchor="end" font-weight="normal" font-style="normal" fill="#1a1a1a" >30</text>
<line x1="509.3" y1="724.6666666666667" x2="513.6" y2="724.6666666666667" stroke="#1a1a1a" stroke-width="1.4"/>
<text x="501.3" y="729.1666666666667" font-size="14.2" text-anchor="end" font-weight="normal" font-style="normal" fill="#1a1a1a" >20</text>
<line x1="509.3" y1="748.6833333333334" x2="513.6" y2="748.6833333333334" stroke="#1a1a1a" stroke-width="1.4"/>
<text x="501.3" y="753.1833333333334" font-size="14.2" text-anchor="end" font-weight="normal" font-style="normal" fill="#1a1a1a" >10</text>
<line x1="509.3" y1="772.7" x2="513.6" y2="772.7" stroke="#1a1a1a" stroke-width="1.4"/>
<text x="501.3" y="777.2" font-size="14.2" text-anchor="end" font-weight="normal" font-style="normal" fill="#1a1a1a" >0</text>
<rect x="556.7" y="689.4" width="25.0" height="83.30000000000007" fill="#a8a000" stroke="#7a6cc2" stroke-width="1.2"/>
<rect x="636.8" y="739" width="25.5" height="33.700000000000045" fill="#a8a000" stroke="#7a6cc2" stroke-width="1.2"/>
<path d="M569.4 669.4V710M565.8 669.4H573.0M565.8 710H573.0" stroke="#606060" stroke-width="1.3" fill="none"/>
<path d="M619 770.3V773M615.4 770.3H622.6M615.4 773H622.6" stroke="#606060" stroke-width="1.3" fill="none"/>
<path d="M649 721.6V756M645.4 721.6H652.6M645.4 756H652.6" stroke="#606060" stroke-width="1.3" fill="none"/>
<circle cx="538.4" cy="773" r="4.45" fill="#000099"/>
<circle cx="540.6" cy="773" r="4.45" fill="#000099"/>
<circle cx="542.7" cy="773" r="4.45" fill="#000099"/>
<circle cx="567.5" cy="657.4" r="4.45" fill="#000099"/>
<circle cx="577.9" cy="674.4" r="4.45" fill="#000099"/>
<circle cx="560.5" cy="689.9" r="4.45" fill="#000099"/>
<circle cx="560.5" cy="701.8" r="4.45" fill="#000099"/>
<circle cx="577.9" cy="698.1" r="4.45" fill="#000099"/>
<circle cx="569.4" cy="712.8" r="4.45" fill="#000099"/>
<circle cx="621.2" cy="773" r="4.45" fill="#000099"/>
<circle cx="639.1" cy="720.3" r="4.45" fill="#000099"/>
<circle cx="658.5" cy="719.1" r="4.45" fill="#000099"/>
<circle cx="640.6" cy="755.5" r="4.45" fill="#000099"/>
<circle cx="649.8" cy="751" r="4.45" fill="#000099"/>
<circle cx="658.5" cy="747.3" r="4.45" fill="#000099"/>
<text x="612" y="640.4" font-size="14.2" text-anchor="middle" font-weight="normal" font-style="normal" fill="#1a1a1a" >p=0.0019</text>
<text x="555.5" y="790.7" font-size="14.2" text-anchor="middle" font-weight="normal" font-style="normal" fill="#1a1a1a" >Control</text>
<text x="555.9" y="807.3" font-size="14.2" text-anchor="middle" font-weight="normal" font-style="normal" fill="#1a1a1a" >vector</text>
<text x="638.9" y="790.7" font-size="14.2" text-anchor="middle" font-weight="normal" font-style="normal" fill="#1a1a1a" >NEIL2</text>
<text x="637.1" y="807.3" font-size="14.2" text-anchor="middle" font-weight="normal" font-style="normal" fill="#1a1a1a" >vector</text>
<line x1="565.7" y1="646.9" x2="648" y2="646.9" stroke="#333" stroke-width="1.0"/>
<text transform="translate(455.5,708) rotate(-90)" font-size="14.2" text-anchor="middle" fill="#1a1a1a">Fold change in E-gene mRNA</text>
<text transform="translate(472.8,707.7) rotate(-90)" font-size="14.2" text-anchor="middle" fill="#1a1a1a">(x10<tspan font-size="9" dy="-5">4</tspan><tspan dy="5">) over uninfected</tspan></text>
<rect x="481.5" y="821.3" width="11" height="11" fill="#8f42c8" stroke="#111" stroke-width="1.6"/>
<text x="533.4" y="832.5" font-size="14.2" text-anchor="middle" font-weight="normal" font-style="normal" fill="#1a1a1a" >Uninfected</text>
<rect x="580.2" y="821" width="10.8" height="11" fill="#a8a000" stroke="#7a6cc2" stroke-width="1.6"/>
<text x="641.3" y="832.1" font-size="14.2" text-anchor="middle" font-weight="normal" font-style="normal" fill="#1a1a1a" >229E infected</text>
</svg></body></html>
